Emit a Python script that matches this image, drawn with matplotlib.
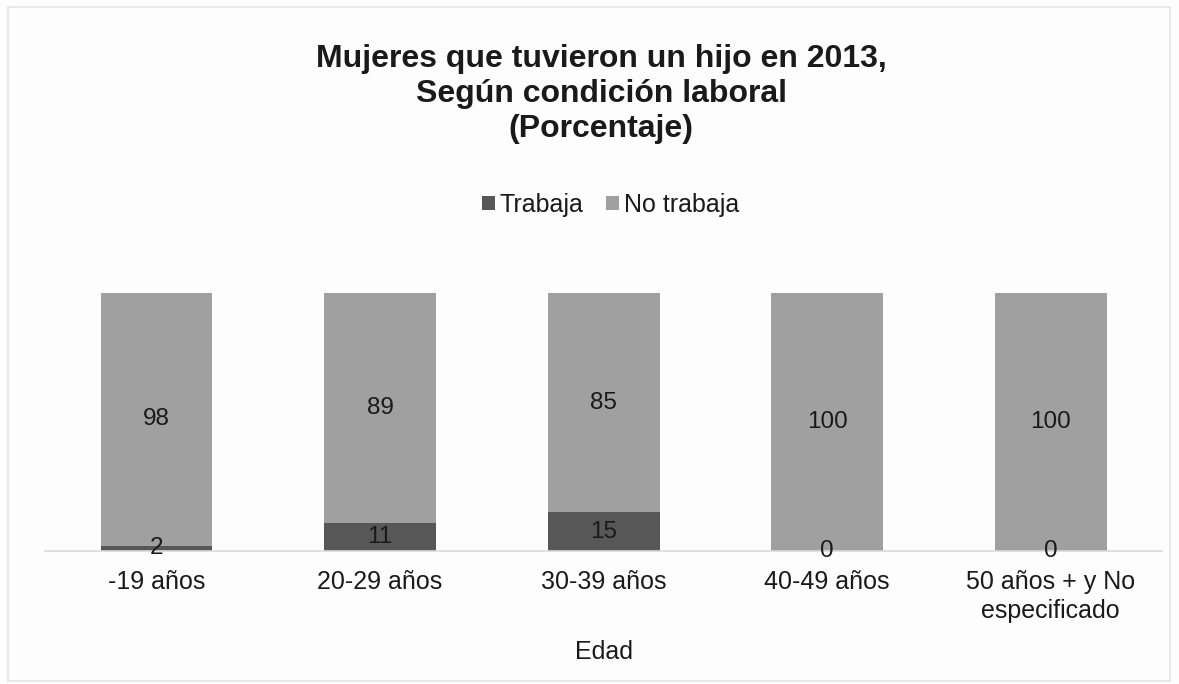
import numpy as np
import matplotlib.pyplot as plt
from matplotlib.patches import Rectangle

plt.rcParams['font.family'] = ['Liberation Sans', 'DejaVu Sans']

# data
edades = ['-19 años', '20-29 años', '30-39 años', '40-49 años',
          '50 años + y No\nespecificado']
trabaja = [2, 11, 15, 0, 0]
no_trabaja = [98, 89, 85, 100, 100]

c_trab = '#575757'
c_notrab = '#a0a0a0'

fig = plt.figure(figsize=(11.79, 6.84), dpi=100)
fig.patch.set_facecolor('#fdfdfd')
ax = fig.add_axes([0.038, 0.1944, 0.948, 0.3772])
ax.set_facecolor('none')

x = np.arange(len(edades))
w = 0.5
b1 = ax.bar(x, trabaja, w, color=c_trab, label='Trabaja')
b2 = ax.bar(x, no_trabaja, w, bottom=trabaja, color=c_notrab, label='No trabaja')
ax.bar_label(b1, label_type='center', fontsize=17.5, color='#1a1a1a')
ax.bar_label(b2, label_type='center', fontsize=17.5, color='#1a1a1a')

ax.set_xlim(-0.5, len(edades) - 0.5)
ax.set_ylim(0, 100)
ax.set_xticks(x)
ax.set_xticklabels(edades, fontsize=18, color='#1a1a1a', linespacing=1.25)
ax.tick_params(axis='x', length=0, pad=14)
ax.set_yticks([])
for s in ['top', 'left', 'right']:
    ax.spines[s].set_visible(False)
ax.spines['bottom'].set_color('#d9d9d9')
ax.spines['bottom'].set_linewidth(1.2)

fig.text(0.51, 0.863, 'Mujeres que tuvieron un hijo en 2013,\nSegún condición laboral\n(Porcentaje)',
         ha='center', va='center', fontsize=23, fontweight='bold',
         color='#1a1a1a', linespacing=1.22)
fig.text(0.512, 0.047, 'Edad', ha='center', va='center', fontsize=18, color='#1a1a1a')

fig.legend(handles=[b1, b2], loc='center', bbox_to_anchor=(0.518, 0.70), ncol=2,
           frameon=False, fontsize=18, handlelength=0.5, handleheight=0.5,
           handletextpad=0.2, columnspacing=0.9, labelcolor='#1a1a1a')

fig.patches.append(Rectangle((0.007, 0.005), 0.985, 0.985, transform=fig.transFigure,
                             fill=False, edgecolor='#e6e6e6', linewidth=1.2))

fig.savefig('out.png', dpi=100, facecolor=fig.get_facecolor())
